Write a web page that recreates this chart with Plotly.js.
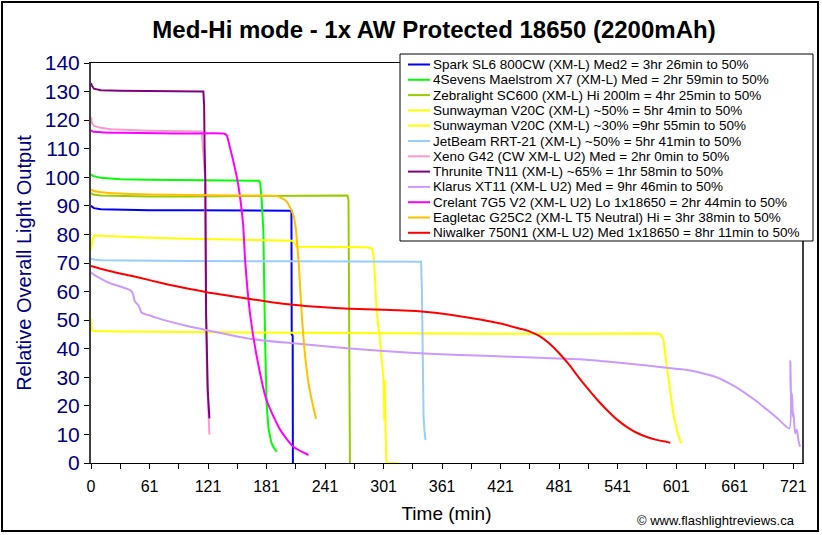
<!DOCTYPE html>
<html><head><meta charset="utf-8">
<script src="https://cdn.plot.ly/plotly-3.0.1.min.js"></script>
<style>html,body{margin:0;padding:0;background:#fff}#chart{width:822px;height:535px}</style>
</head><body><div id="chart"></div>
<script>
// ---------- series names & colours ----------
const seriesNames = [
  "Spark SL6 800CW (XM-L) Med2 = 3hr 26min to 50%",
  "4Sevens Maelstrom X7 (XM-L) Med = 2hr 59min to 50%",
  "Zebralight SC600 (XM-L) Hi 200lm = 4hr 25min to 50%",
  "Sunwayman V20C (XM-L) ~50% = 5hr 4min to 50%",
  "Sunwayman V20C (XM-L) ~30% =9hr 55min to 50%",
  "JetBeam RRT-21 (XM-L) ~50% = 5hr 41min to 50%",
  "Xeno G42 (CW XM-L U2) Med = 2hr 0min to 50%",
  "Thrunite TN11 (XM-L) ~65% = 1hr 58min to 50%",
  "Klarus XT11 (XM-L U2) Med = 9hr 46min to 50%",
  "Crelant 7G5 V2 (XM-L U2) Lo 1x18650 = 2hr 44min to 50%",
  "Eagletac G25C2 (XM-L T5 Neutral) Hi = 3hr 38min to 50%",
  "Niwalker 750N1 (XM-L U2) Med 1x18650 = 8hr 11min to 50%"
];
const seriesColors = ["#0000FF","#00FF00","#99CC00","#FFFF00","#FFFF00","#99CCFF",
                      "#FF99CC","#800080","#CC99FF","#FF00FF","#FFC000","#FF0000"];
const seriesShapes = ["linear","linear","linear","linear","linear","linear",
                      "linear","linear","spline","spline","spline","spline"];

// ---------- data (time in min, relative output) ----------
const sparkT = [0, 1, 3, 10, 30, 60, 100, 150, 205.5, 205.8, 206.8, 207];
const sparkV = [90, 89.8, 89.2, 88.8, 88.6, 88.5, 88.5, 88.4, 88.3, 45, 44.5, 0];

const maelT = [0, 2, 10, 30, 60, 100, 140, 172, 173.5, 175, 176.7, 177.6, 178.5, 180, 182, 185, 188, 190.5];
const maelV = [101, 100.5, 99.8, 99.3, 99.1, 99, 98.9, 98.8, 98, 92, 81.5, 60, 43, 21, 12, 7, 5, 4];

const zebraT = [0, 2, 10, 30, 60, 100, 150, 200, 263, 264, 264.5, 265, 265.5];
const zebraV = [94.5, 94, 93.6, 93.4, 93.3, 93.3, 93.4, 93.5, 93.6, 92, 60, 47, 0];

const sun50T = [0, 1.5, 3, 10, 30, 60, 100, 150, 200, 207, 209, 211, 250, 283, 288, 290, 293, 296, 299, 300, 300.8, 301.2, 301.5, 302.5, 303, 315];
const sun50V = [74.5, 78, 79.6, 79.5, 79.2, 78.8, 78.5, 78.2, 78, 77.8, 76.5, 75.7, 75.6, 75.5, 75.1, 72, 52.5, 44, 33, 29, 15, 29, 20, 5, 0, 0];

const sun30T = [0, 0.5, 1.5, 5, 30, 100, 200, 300, 400, 500, 580, 584, 587, 590.4, 594, 597, 601, 605];
const sun30V = [50.5, 47, 46.3, 46.2, 46, 45.8, 45.6, 45.4, 45.2, 45.2, 45.3, 45, 43, 33.7, 25, 17.4, 11, 6.9];

const jetT = [0, 3, 10, 50, 100, 200, 300, 338.5, 339.3, 340, 340.5, 341, 342, 343];
const jetV = [71.5, 71.2, 71, 70.8, 70.7, 70.6, 70.5, 70.4, 60, 43, 28, 16, 11, 8];

const xenoT = [0, 1, 3, 10, 20, 40, 60, 80, 100, 113.5, 117, 117.5, 118, 119, 120, 121.4];
const xenoV = [121, 119, 118, 117.3, 116.8, 116.5, 116.3, 116.2, 116, 116, 100, 70, 50, 30, 18, 10];

const thruT = [0, 1, 3, 10, 30, 60, 90, 113, 115.2, 116, 116.5, 117.2, 118, 119, 119.7, 121.4];
const thruV = [133, 132, 131, 130.5, 130.3, 130.1, 130, 130, 130, 125, 110, 99, 52.5, 40, 25.5, 15.6];

const klarusT = [0, 1, 10, 19.5, 30, 40, 42.8, 45, 48.5, 52, 60.5, 67.4, 94.7, 120, 166.5, 207.5, 265.6, 327, 378, 430, 460, 501, 529, 560, 590, 610, 625, 640, 652, 665, 680, 693, 705, 716, 717, 717.6, 718.7, 719.7, 720.3, 722, 723.7, 725.3, 727];
const klarusV = [66.8, 66.4, 64.5, 62.9, 61.8, 60.5, 59.4, 56.5, 55.3, 52.6, 51.6, 50.8, 48.3, 46.4, 43.3, 41.9, 40.1, 38.6, 37.8, 37.2, 36.8, 36.3, 35.5, 34.5, 33.3, 32.6, 31.6, 30.2, 28.3, 25.8, 22.2, 18.7, 15.3, 12.1, 35.7, 23.2, 24.4, 16.2, 17.4, 10.4, 11.6, 8, 5.7];

const crelT = [0, 2, 10, 30, 70, 100, 135.7, 139, 142, 146, 151, 156, 158, 163, 170, 180, 194, 207.5, 223];
const crelV = [116.5, 116, 115.8, 115.6, 115.4, 115.3, 115.3, 114.8, 111, 105.5, 97.3, 83.3, 71, 52.4, 37.2, 22, 11.6, 5.7, 2.8];

const eagleT = [0, 2, 10, 30, 60, 100, 150, 190, 195, 200.7, 204, 207.5, 210, 211, 213, 215.5, 217.8, 220, 223, 227, 230.8];
const eagleV = [95.8, 95.3, 94.8, 94.3, 94, 93.8, 93.6, 93.4, 92.8, 91.5, 89.5, 86.8, 82, 78, 70, 55, 44, 36, 28, 21, 15.5];

const niwaT = [0, 10, 20, 40, 60, 80, 100, 120, 140, 163, 185, 207, 235, 265, 300, 327, 339, 370, 399, 420, 440, 450, 460, 470, 480, 490, 500, 510, 520, 530, 540, 550, 560, 570, 580, 590, 594];
const niwaV = [69, 68, 67.1, 65.6, 64, 62.4, 61, 59.7, 58.6, 57.4, 56.3, 55.4, 54.6, 54, 53.6, 53.3, 53, 51.8, 50.2, 48.8, 47, 46, 44.4, 41.8, 38.4, 34.5, 30, 25.8, 21.8, 18.2, 15, 12.5, 10.5, 9.1, 8.1, 7.4, 7.1];

const seriesT = [sparkT, maelT, zebraT, sun50T, sun30T, jetT, xenoT, thruT, klarusT, crelT, eagleT, niwaT];
const seriesV = [sparkV, maelV, zebraV, sun50V, sun30V, jetV, xenoV, thruV, klarusV, crelV, eagleV, niwaV];

// ---------- tick labels ----------
const tickVals = [0,30,60,90,120,150,180,210,240,270,300,330,360,390,420,450,480,510,540,570,600,630,660,690,720];
const tickText = ["0","","61","","121","","181","","241","","301","","361","","421","","481","","541","","601","","661","","721"];

// ---------- layout geometry (pixels) ----------
const W = 822, H = 535, PL = 91, PR = 802, PT = 63, PB = 463;
const px2x = p => (p - PL) / (PR - PL);
const py2y = p => (PB - p) / (PB - PT);
const FONT = "Liberation Sans, Arial, sans-serif";

const traces = seriesNames.map((n, i) => ({
  type: 'scatter', mode: 'lines', name: n,
  x: seriesT[i], y: seriesV[i],
  line: {color: seriesColors[i], width: 2, shape: seriesShapes[i], smoothing: 0.6},
  showlegend: false, hoverinfo: 'skip'
}));

const shapes = [
  {type:'rect', xref:'paper', yref:'paper', x0:px2x(2), x1:px2x(818), y0:py2y(531), y1:py2y(2),
   line:{color:'#000', width:2}, fillcolor:'rgba(0,0,0,0)', layer:'below'},
  {type:'rect', xref:'paper', yref:'paper', x0:px2x(400), x1:px2x(813), y0:py2y(241), y1:py2y(54),
   line:{color:'#000', width:1}, fillcolor:'#fff'}
];
const annotations = [];
const rowY0 = 64.5, rowStep = 15.3;
seriesNames.forEach((n, i) => {
  const yy = py2y(rowY0 + i * rowStep);
  shapes.push({type:'line', xref:'paper', yref:'paper', x0:px2x(408), x1:px2x(430), y0:yy, y1:yy,
               line:{color:seriesColors[i], width:2}});
  annotations.push({xref:'paper', yref:'paper', x:px2x(431), y:yy, xanchor:'left', yanchor:'middle',
                    text:n, showarrow:false, font:{family:FONT, size:13.5, color:'#000'}});
});
annotations.push({xref:'paper', yref:'paper', x:px2x(716), y:py2y(520), xanchor:'center', yanchor:'middle',
                  text:'© www.flashlightreviews.ca', showarrow:false, font:{family:FONT, size:13, color:'#000'}});

const layout = {
  width: W, height: H,
  margin: {l: PL, r: W - PR, t: PT, b: H - PB},
  paper_bgcolor: '#fff', plot_bgcolor: '#fff',
  font: {family: FONT, color: '#000'},
  title: {text: '<b>Med-Hi mode - 1x AW Protected 18650 (2200mAh)</b>',
          font: {family: FONT, size: 24, color: '#000'},
          x: px2x(434), xref: 'paper', xanchor: 'center',
          y: 1 - 30 / H, yref: 'container', yanchor: 'middle'},
  xaxis: {range: [0, 729], tickmode: 'array', tickvals: tickVals, ticktext: tickText,
          ticks: 'outside', ticklen: 5, tickcolor: '#000', tickwidth: 1,
          showline: true, linecolor: '#000', linewidth: 1, mirror: true,
          showgrid: false, zeroline: false, ticklabelstandoff: 4,
          tickfont: {family: FONT, size: 16, color: '#000'},
          title: {text: 'Time (min)', font: {family: FONT, size: 19, color: '#000'}, standoff: 12}},
  yaxis: {range: [0, 140], tickmode: 'linear', tick0: 0, dtick: 10,
          ticks: 'outside', ticklen: 5, tickcolor: '#000', tickwidth: 1,
          showline: true, linecolor: '#404040', linewidth: 2, mirror: true,
          showgrid: false, zeroline: false,
          tickfont: {family: FONT, size: 21, color: '#000080'},
          title: {text: 'Relative Overall Light Output', font: {family: FONT, size: 20, color: '#000080'}, standoff: 8}},
  shapes: shapes,
  annotations: annotations,
  showlegend: false
};

Plotly.newPlot('chart', traces, layout, {displayModeBar: false, staticPlot: true});
</script>
</body></html>
